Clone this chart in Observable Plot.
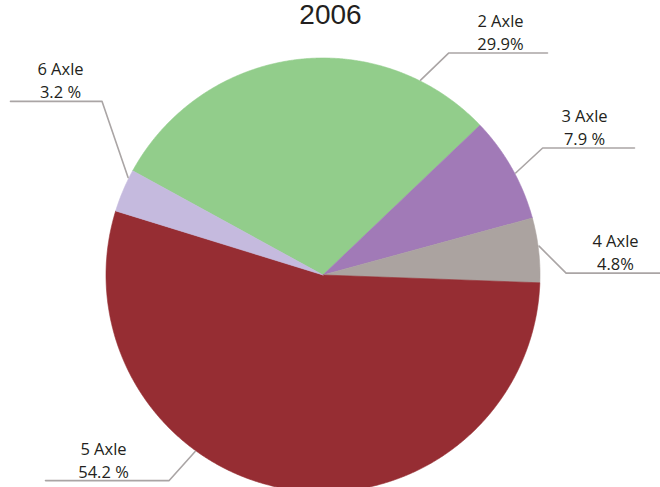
<!DOCTYPE html>
<html>
<head>
<meta charset="utf-8">
<script src="https://cdn.jsdelivr.net/npm/d3@7"></script>
<script src="https://cdn.jsdelivr.net/npm/@observablehq/plot@0.6"></script>
<style>
  html, body { margin: 0; padding: 0; background: #fff; }
  #chart svg { display: block; }
</style>
</head>
<body>
<div id="chart"></div>
<script>
// ---- data ----
const title = "2006";
const categories = ["2 Axle", "3 Axle", "4 Axle", "5 Axle", "6 Axle"];
const values = [29.9, 7.9, 4.8, 54.2, 3.2];
const valueLabels = ["29.9%", "7.9 %", "4.8%", "54.2 %", "3.2 %"];
const colors = ["#92cd8b", "#a17ab7", "#aba3a0", "#962d33", "#c5bade"];

// ---- layout ----
const W = 660, H = 487;
const cx = 322.5, cy = 274.5, R = 217;
const startAngle = -61.3 * Math.PI / 180;   // clockwise from 12 o'clock
// leader: anchor angle on rim (deg), elbow offset, underline end x, text center x
const leaders = [
  {a: 26.6,  ex: 28,  ey: -27, endX: 547, tx: 500},
  {a: 62.1,  ex: 27,  ey: -25, endX: 634, tx: 584},
  {a: 82.4,  ex: 27,  ey: 27,  endX: 660, tx: 615},
  {a: 215.9, ex: -26, ey: 29,  endX: 45,  tx: 103},
  {a: -63.4, ex: -26, ey: -76, endX: 10,  tx: 60}
];

const pie = d3.pie().sort(null).value(d => d).startAngle(startAngle).endAngle(startAngle + 2 * Math.PI)(values);
const pt = (ang, r) => ({x: cx + r * Math.sin(ang), y: cy - r * Math.cos(ang)});

const marks = [];
pie.forEach((p, i) => {
  const n = Math.max(8, Math.ceil((p.endAngle - p.startAngle) / 0.005));
  const pts = [pt(0, 0)];
  for (let k = 0; k <= n; k++) pts.push(pt(p.startAngle + (p.endAngle - p.startAngle) * k / n, R));
  pts.push(pt(0, 0));
  marks.push(Plot.line(pts, {x: "x", y: "y", fill: colors[i], stroke: colors[i], strokeWidth: 0.6, curve: "linear"}));
});

const leaderColor = "#aaa5a5";
leaders.forEach((l, i) => {
  const s = pt(l.a * Math.PI / 180, R + 1);
  const e = {x: s.x + l.ex, y: s.y + l.ey};
  const pts = [s, e, {x: l.endX, y: e.y}];
  marks.push(Plot.line(pts, {x: "x", y: "y", stroke: leaderColor, strokeWidth: 1.6, curve: "linear"}));
  marks.push(Plot.text([categories[i], valueLabels[i]], {
    x: () => l.tx,
    y: (d, j) => e.y - 3 - (1 - j) * 23,
    text: d => d,
    lineAnchor: "bottom",
    textAnchor: "middle",
    fontSize: 16.5,
    fill: "#231f20",
    fontFamily: "Open Sans"
  }));
});

marks.push(Plot.text([title], {
  frameAnchor: "top", dy: 23, lineAnchor: "bottom", text: d => d,
  fontSize: 28, fill: "#231f20", fontFamily: "Liberation Sans"
}));

const chart = Plot.plot({
  width: W, height: H,
  margin: 0,
  x: {domain: [0, W], range: [0, W], axis: null},
  y: {domain: [0, H], range: [0, H], axis: null},
  style: {background: "#fff", overflow: "hidden"},
  marks
});
document.getElementById("chart").append(chart);
</script>
</body>
</html>
